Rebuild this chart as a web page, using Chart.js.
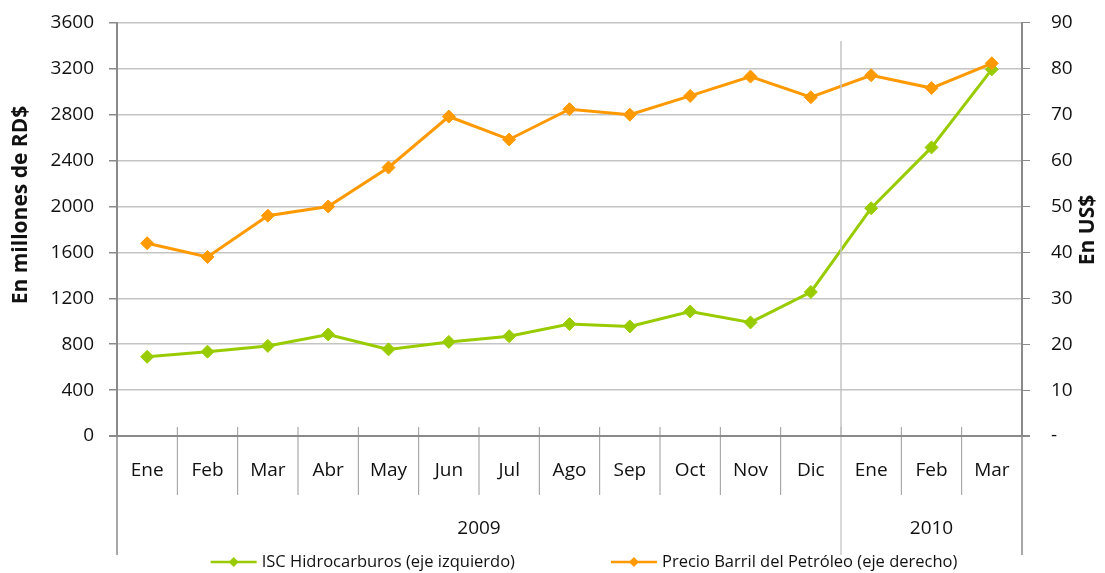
<!DOCTYPE html>
<html>
<head>
<meta charset="utf-8">
<script src="https://cdn.jsdelivr.net/npm/chart.js@4.4.0/dist/chart.umd.min.js"></script>
<style>
    html, body { margin: 0; padding: 0; background: #fff; }
</style>
</head>
<body>
<canvas id="chart" width="1105" height="573"></canvas>
<script>
// Data
const months = ['Ene', 'Feb', 'Mar', 'Abr', 'May', 'Jun', 'Jul', 'Ago', 'Sep', 'Oct', 'Nov', 'Dic', 'Ene', 'Feb', 'Mar'];
const years = ['2009', '2010'];
const monthsPerYear = [12, 3];
const iscHidrocarburos = [690, 735, 785, 885, 755, 820, 870, 975, 955, 1085, 990, 1255, 1985, 2515, 3195];
const precioBarril = [42.0, 39.0, 48.0, 50.0, 58.5, 69.6, 64.6, 71.2, 70.0, 74.1, 78.3, 73.8, 78.6, 75.8, 81.2];
const seriesNames = ['ISC Hidrocarburos (eje izquierdo)', 'Precio Barril del Petróleo (eje derecho)'];
const leftTitle = 'En millones de RD$';
const rightTitle = 'En US$';

const GREEN = '#99cc00';
const ORANGE = '#ff9900';
const AXIS = '#8a8a8a';
const GRID = '#c4c4c4';
const FONT = "'Open Sans', 'DejaVu Sans', sans-serif";

function line(ctx, x1, y1, x2, y2) {
    ctx.beginPath();
    ctx.moveTo(x1, y1);
    ctx.lineTo(x2, y2);
    ctx.stroke();
}

function diamond(ctx, cx, cy, r, color) {
    ctx.fillStyle = color;
    ctx.beginPath();
    ctx.moveTo(cx, cy - r);
    ctx.lineTo(cx + r, cy);
    ctx.lineTo(cx, cy + r);
    ctx.lineTo(cx - r, cy);
    ctx.closePath();
    ctx.fill();
}

// x axis with month boxes, year groups, divider and the two rotated titles
const axisDecor = {
    id: 'axisDecor',
    afterDraw(chart) {
        const ctx = chart.ctx, x = chart.scales.x, area = chart.chartArea;
        const half = (x.getPixelForValue(1) - x.getPixelForValue(0)) / 2;
        const edge = i => i >= months.length ? x.getPixelForValue(months.length - 1) + half : x.getPixelForValue(i) - half;
        const axisY = area.bottom;
        ctx.save();

        // year boundaries
        const bounds = [0];
        let n = 0;
        monthsPerYear.forEach(m => { n += m; bounds.push(n); });

        // divider inside the plot between the years
        ctx.strokeStyle = GRID;
        ctx.lineWidth = 1.5;
        bounds.slice(1, -1).forEach(b => line(ctx, edge(b), 41, edge(b), axisY));

        // month separators
        ctx.strokeStyle = '#999';
        ctx.lineWidth = 1;
        for (let i = 1; i < months.length; i++) {
            if (bounds.includes(i)) continue;
            line(ctx, edge(i), axisY - 9, edge(i), axisY + 59);
        }
        // year separators go further down
        bounds.forEach(b => {
            ctx.strokeStyle = (b === 0 || b === months.length) ? AXIS : '#b5b5b5';
            ctx.lineWidth = (b === 0 || b === months.length) ? 1.5 : 1;
            line(ctx, edge(b), axisY - 9, edge(b), axisY + 119);
        });

        // x axis line
        ctx.strokeStyle = AXIS;
        ctx.lineWidth = 2;
        line(ctx, area.left - 8, axisY, area.right + 8, axisY);

        // year labels
        ctx.fillStyle = '#111';
        ctx.font = '19px ' + FONT;
        ctx.textAlign = 'center';
        ctx.textBaseline = 'middle';
        years.forEach((y, k) => {
            ctx.fillText(y, (edge(bounds[k]) + edge(bounds[k + 1])) / 2, axisY + 93);
        });

        // axis titles, both read bottom to top
        ctx.font = 'bold 21px ' + FONT;
        ctx.save();
        ctx.translate(21, 205);
        ctx.rotate(-Math.PI / 2);
        ctx.fillText(leftTitle, 0, 0);
        ctx.restore();
        ctx.save();
        ctx.translate(area.right + 66, 230);
        ctx.rotate(-Math.PI / 2);
        ctx.fillText(rightTitle, 0, 0);
        ctx.restore();

        ctx.restore();
    }
};

// legend: short line with a diamond, then the label
const lineLegend = {
    id: 'lineLegend',
    afterDraw(chart) {
        const ctx = chart.ctx;
        const items = chart.data.datasets.map(d => ({ text: d.label, color: d.borderColor }));
        ctx.save();
        ctx.font = '16.5px ' + FONT;
        ctx.textBaseline = 'middle';
        ctx.textAlign = 'left';
        const lineW = 46, gap = 5, between = 96;
        const widths = items.map(it => lineW + gap + ctx.measureText(it.text).width);
        const total = widths.reduce((a, b) => a + b, 0) + between * (items.length - 1);
        let cx = 584 - total / 2;
        const cy = 562;
        items.forEach((it, k) => {
            ctx.strokeStyle = it.color;
            ctx.lineWidth = 2.5;
            line(ctx, cx, cy, cx + lineW, cy);
            diamond(ctx, cx + lineW / 2, cy, 5, it.color);
            ctx.fillStyle = '#111';
            ctx.fillText(it.text, cx + lineW + gap, cy);
            cx += widths[k] + between;
        });
        ctx.restore();
    }
};

new Chart(document.getElementById('chart'), {
    type: 'line',
    data: {
        labels: months,
        datasets: [{
            label: seriesNames[0],
            data: iscHidrocarburos,
            yAxisID: 'y',
            borderColor: GREEN,
            backgroundColor: GREEN,
            borderWidth: 3,
            pointStyle: 'rectRot',
            pointRadius: 6.5,
            pointBorderWidth: 1,
            pointBackgroundColor: GREEN,
            tension: 0,
            order: 1
        }, {
            label: seriesNames[1],
            data: precioBarril,
            yAxisID: 'y1',
            borderColor: ORANGE,
            backgroundColor: ORANGE,
            borderWidth: 3,
            pointStyle: 'rectRot',
            pointRadius: 6.5,
            pointBorderWidth: 1,
            pointBackgroundColor: ORANGE,
            tension: 0,
            order: 0
        }]
    },
    options: {
        responsive: false,
        animation: false,
        layout: { padding: { top: 15, left: 0, right: 0, bottom: 0 } },
        plugins: {
            legend: { display: false },
            tooltip: { enabled: false }
        },
        scales: {
            x: {
                offset: true,
                grid: { display: false, drawTicks: false },
                border: { display: false },
                ticks: {
                    font: { family: FONT, size: 19 },
                    color: '#111',
                    padding: 23,
                    maxRotation: 0,
                    autoSkip: false
                },
                afterFit: s => { s.height = 137; }
            },
            y: {
                position: 'left',
                min: 0,
                max: 3600,
                ticks: {
                    stepSize: 400,
                    font: { family: FONT, size: 19, lineHeight: 0.2 },
                    color: '#111',
                    padding: 15,
                    callback: v => String(v)
                },
                grid: { color: GRID, lineWidth: 1.5, tickColor: AXIS, tickLength: 8 },
                border: { color: AXIS, width: 2 },
                afterFit: s => { s.width = 117; }
            },
            y1: {
                position: 'right',
                min: 0,
                max: 90,
                ticks: {
                    stepSize: 10,
                    font: { family: FONT, size: 19, lineHeight: 0.2 },
                    color: '#111',
                    padding: 21,
                    callback: v => v === 0 ? '-' : String(v)
                },
                grid: { drawOnChartArea: false, tickColor: AXIS, tickLength: 8 },
                border: { color: AXIS, width: 2 },
                afterFit: s => { s.width = 83; }
            }
        }
    },
    plugins: [axisDecor, lineLegend]
});
</script>
</body>
</html>
